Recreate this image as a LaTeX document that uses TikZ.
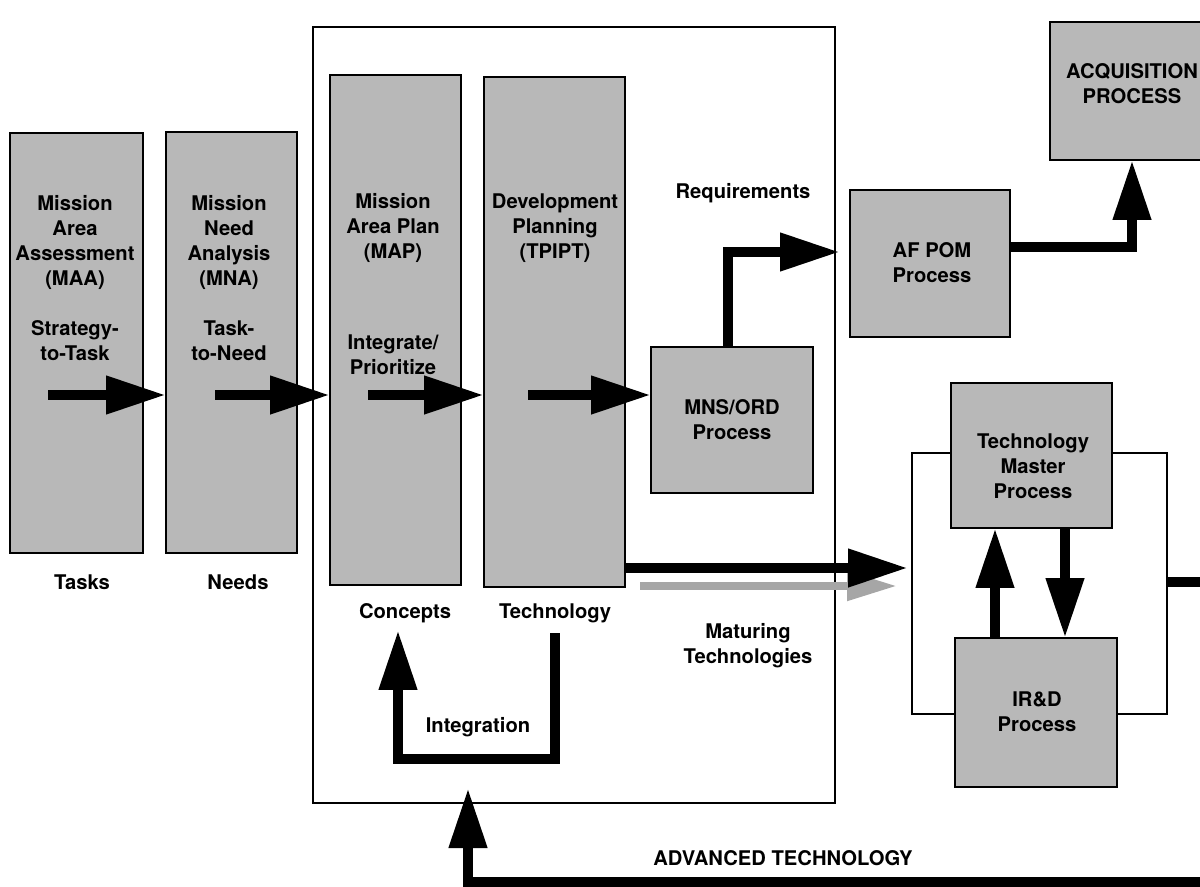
\documentclass[tikz,border=0pt]{standalone}
\usepackage{fontspec}
\setmainfont{TeX Gyre Heros}
\usetikzlibrary{arrows.meta}
\begin{document}
\begin{tikzpicture}[x=0.02cm,y=-0.02cm,
  box/.style={draw=black, line width=1.6pt, fill=black!28, inner sep=0pt, outer sep=0pt},
  frm/.style={draw=black, line width=1.3pt, inner sep=0pt, outer sep=0pt},
  txt/.style={font=\bfseries\fontsize{11.5}{14.2}\selectfont, align=center, inner sep=0pt},
  flow/.style={line width=0.21cm, line join=miter, -{Triangle[length=1.2cm,width=0.72cm]}},
  grayflow/.style={draw=black!35, line width=0.16cm, -{Triangle[length=1.0cm,width=0.56cm]}, black!35}
]
\useasboundingbox (0,0) rectangle (1200,886);
\clip (0,0) rectangle (1200,886);

% frames
\node[frm, minimum width=10.44cm, minimum height=15.52cm] (frame) at (574,415) {};
\node[frm, minimum width=5.1cm, minimum height=5.22cm] (loop) at (1039.5,583.5) {};

% boxes
\node[box, minimum width=2.66cm, minimum height=8.4cm] (maa) at (76.5,343) {};
\node[box, minimum width=2.62cm, minimum height=8.42cm] (mna) at (231.5,342.5) {};
\node[box, minimum width=2.62cm, minimum height=10.2cm] (map) at (395.5,330) {};
\node[box, minimum width=2.82cm, minimum height=10.2cm] (tpipt) at (554.5,332) {};
\node[box, minimum width=3.24cm, minimum height=2.92cm] (mns) at (732,420) {};
\node[box, minimum width=3.2cm, minimum height=2.94cm] (afpom) at (930,263.5) {};
\node[box, minimum width=3.28cm, minimum height=2.76cm] (acq) at (1132,91) {};
\node[box, minimum width=3.22cm, minimum height=2.9cm] (tm) at (1031.5,455.5) {};
\node[box, minimum width=3.24cm, minimum height=2.98cm] (ird) at (1036,712.5) {};

% texts
\node[txt] (maat) at (75,278) {Mission\\Area\\Assessment\\(MAA)\\[0.5cm]Strategy-\\to-Task};
\node[txt] (mnat) at (229,278) {Mission\\Need\\Analysis\\(MNA)\\[0.5cm]Task-\\to-Need};
\node[txt] (mapt) at (393,228) {Mission\\Area Plan\\(MAP)};
\node[txt] (mapt2) at (393,355) {Integrate/\\Prioritize};
\node[txt] (tpiptt) at (555,228) {Development\\Planning\\(TPIPT)};
\node[txt] (mnst) at (732,420) {MNS/ORD\\Process};
\node[txt] (afpomt) at (932,263) {AF POM\\Process};
\node[txt] (acqt) at (1132,84) {ACQUISITION\\PROCESS};
\node[txt] (tmt) at (1033,466) {Technology\\Master\\Process};
\node[txt] (irdt) at (1037,712) {IR\&D\\Process};
\node[txt] (tasks) at (82,582) {Tasks};
\node[txt] (needs) at (238,582) {Needs};
\node[txt] (concepts) at (405,613) {Concepts};
\node[txt] (techn) at (555,613) {Technology};
\node[txt] (req) at (743,193) {Requirements};
\node[txt] (matur) at (748,646) {Maturing\\Technologies};
\node[txt] (integ) at (478,727) {Integration};
\node[txt] (advt) at (783,858) {ADVANCED TECHNOLOGY};

% coordinates
\coordinate (s1) at (48,395);
\coordinate (s2) at (215,395);
\coordinate (s3) at (368,395);
\coordinate (s4) at (528,395);
\coordinate (r1) at (728,252);
\coordinate (r2) at (840,252);
\coordinate (q1) at (1132,247);
\coordinate (m1) at (625,568);
\coordinate (m2) at (908,568);
\coordinate (g1) at (640,586);
\coordinate (g2) at (897,586);
\coordinate (u) at (995,0);
\coordinate (d) at (1065,0);
\coordinate (e1) at (1215,582);
\coordinate (e2) at (1215,882);
\coordinate (e3) at (468,882);
\coordinate (e4) at (468,788);
\coordinate (i1) at (555,633);
\coordinate (i2) at (555,759);
\coordinate (i3) at (398,759);
\coordinate (i4) at (398,630);

% arrows
\draw[flow] (s1) -- (s1 -| mna.west);
\draw[flow] (s2) -- (s2 -| map.west);
\draw[flow] (s3) -- (s3 -| tpipt.west);
\draw[flow] (s4) -- (s4 -| mns.west);
\draw[flow] (mns.north -| r1) -- (r1) -- (r2);
\draw[flow] (afpom.east |- q1) -- (q1) -- (q1 |- acq.south);
\draw[grayflow] (g1) -- (g2);
\draw[flow] (tpipt.east |- m1) -- (m2);
\draw[flow] (u |- ird.north) -- (u |- tm.south);
\draw[flow] (d |- tm.south) -- (d |- ird.north);
\draw[flow] (loop.east |- e1) -- (e1) -- (e2) -- (e3) -- (e4);
\draw[flow] (i1) -- (i2) -- (i3) -- (i4);
\end{tikzpicture}
\end{document}
